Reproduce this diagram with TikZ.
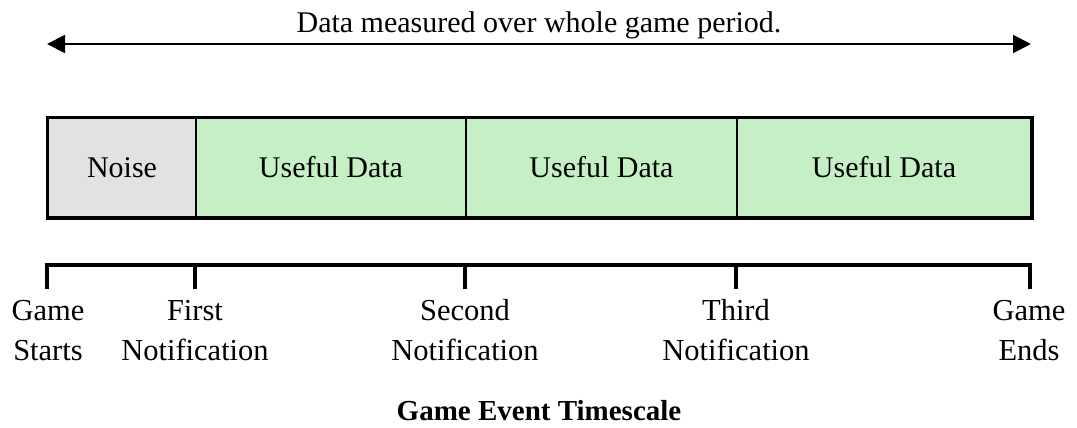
\documentclass[tikz,border=0pt]{standalone}
\usepackage{fontspec}
\setmainfont{Liberation Serif}
\usetikzlibrary{arrows.meta}
\definecolor{noisegrey}{HTML}{E2E2E2}
\definecolor{usefulgreen}{HTML}{C6EFC6}
\tikzset{
  seg/.style={draw=black, line width=2pt, minimum height=99pt, inner sep=0pt, font=\fontsize{30}{34}\selectfont},
  tick/.style={line width=4pt},
  ticklabel/.style={align=center, anchor=north, font=\fontsize{30.5}{40}\selectfont, inner sep=0pt},
  span/.style={line width=2pt, {Triangle[length=18pt,width=18pt]}-{Triangle[length=18pt,width=18pt]}},
}
\begin{document}
\begin{tikzpicture}[x=1pt,y=-1pt]
  \useasboundingbox (0,0) rectangle (1077,428);
  % overall measurement span
  \coordinate (sL) at (47,44);
  \coordinate (sR) at (1031,44);
  \draw[span] (sL) -- (sR);
  \node[font=\fontsize{30}{34}\selectfont, anchor=base] (spanlbl) at (539,33) {Data measured over whole game period.};
  % segments
  \node[seg, fill=noisegrey, minimum width=148pt, anchor=north west] (noise) at (47,117) {Noise};
  \node[seg, fill=usefulgreen, minimum width=270pt, anchor=north west] (u1) at (195,117) {Useful Data};
  \node[seg, fill=usefulgreen, minimum width=271pt, anchor=north west] (u2) at (465,117) {Useful Data};
  \node[seg, fill=usefulgreen, minimum width=294pt, anchor=north west] (u3) at (736,117) {Useful Data};
  \draw[line width=3pt] (noise.north west) rectangle (u3.south east);
  % timeline
  \coordinate (t0) at (47,289);
  \coordinate (t1) at (195,289);
  \coordinate (t2) at (465,289);
  \coordinate (t3) at (736,289);
  \coordinate (t4) at (1030,289);
  \draw[tick] (t0) -- (47,265) -- (1030,265) -- (t4);
  \foreach \c in {t1,t2,t3}{\draw[tick] (\c) -- (\c |- 0,265);}
  % labels: first baseline at y=320, strut height 28
  \node[ticklabel] (l0) at (48,292) {\strut Game\\Starts};
  \node[ticklabel] (l1) at (195,292) {\strut First\\Notification};
  \node[ticklabel] (l2) at (465,292) {\strut Second\\Notification};
  \node[ticklabel] (l3) at (736,292) {\strut Third\\Notification};
  \node[ticklabel] (l4) at (1029,292) {\strut Game\\Ends};
  \node[font=\bfseries\fontsize{29}{34}\selectfont, anchor=base] (title) at (539,420) {Game Event Timescale};
\end{tikzpicture}
\end{document}
